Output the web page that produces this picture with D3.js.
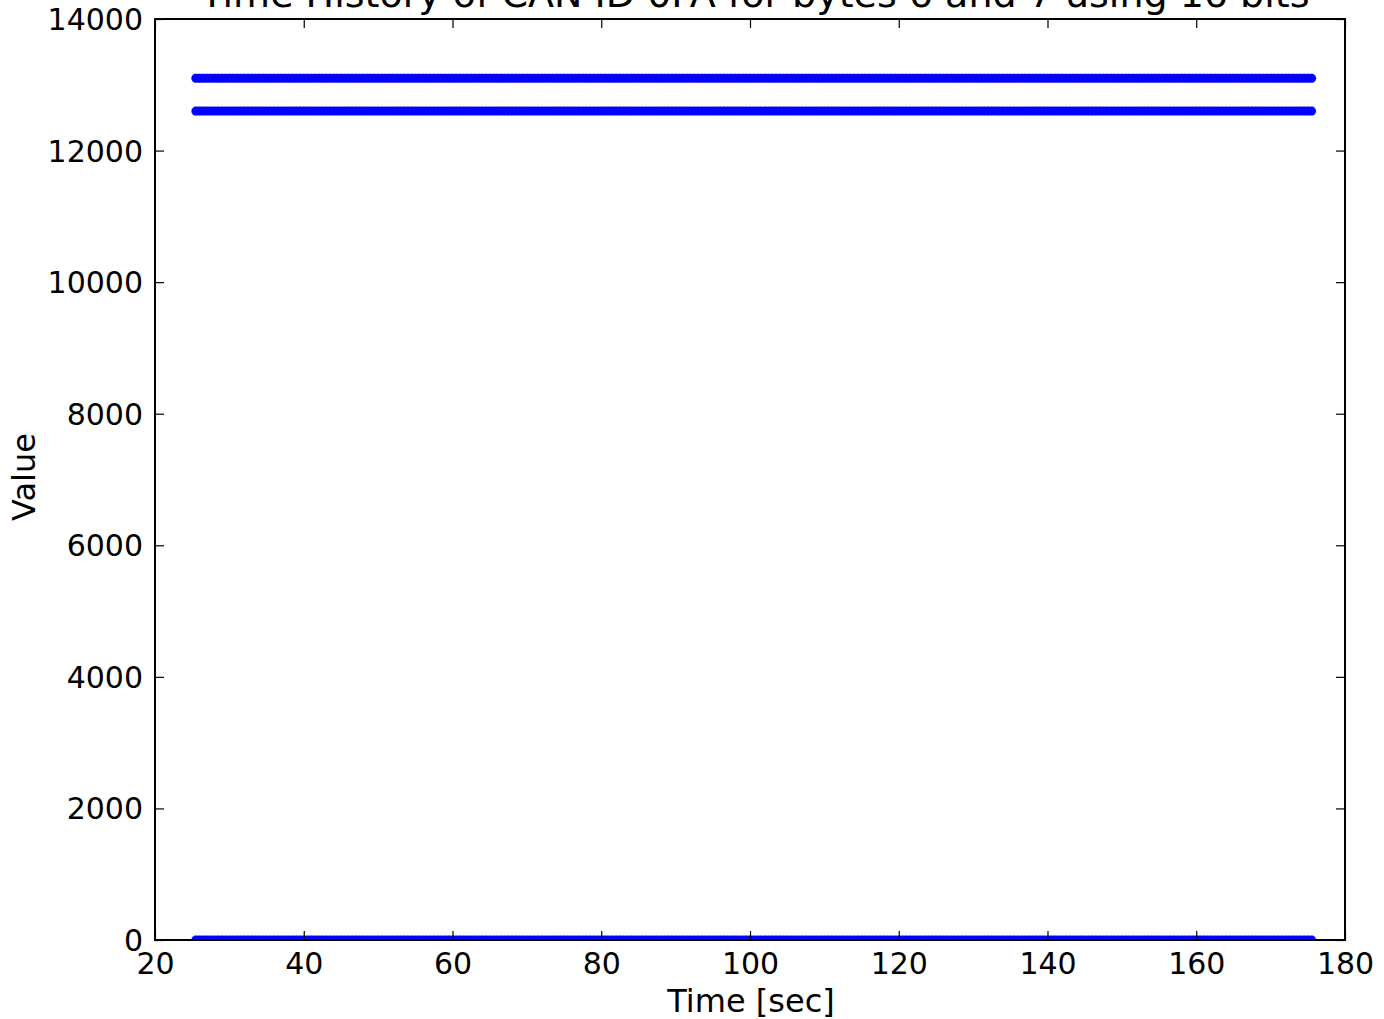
<!DOCTYPE html>
<html><head><meta charset="utf-8">
<script src="https://cdn.jsdelivr.net/npm/d3@7"></script>
<style>body{margin:0;background:#fff;} text{font-family:"DejaVu Sans",sans-serif;fill:#000;}</style>
</head><body>
<svg id="c" width="1384" height="1019"></svg>
<script>
const titleText = "Time History of CAN ID 0FA for bytes 6 and 7 using 16 bits";
const xLabel = "Time [sec]";
const yLabel = "Value";
const xTicks = [20,40,60,80,100,120,140,160,180];
const yTicks = [0,2000,4000,6000,8000,10000,12000,14000];
const times = [25.5,26,26.5,27,27.5,28,28.5,29,29.5,30,30.5,31,31.5,32,32.5,33,33.5,34,34.5,35,35.5,36,36.5,37,37.5,38,38.5,39,39.5,40,
40.5,41,41.5,42,42.5,43,43.5,44,44.5,45,45.5,46,46.5,47,47.5,48,48.5,49,49.5,50,50.5,51,51.5,52,52.5,53,53.5,54,54.5,55,
55.5,56,56.5,57,57.5,58,58.5,59,59.5,60,60.5,61,61.5,62,62.5,63,63.5,64,64.5,65,65.5,66,66.5,67,67.5,68,68.5,69,69.5,70,
70.5,71,71.5,72,72.5,73,73.5,74,74.5,75,75.5,76,76.5,77,77.5,78,78.5,79,79.5,80,80.5,81,81.5,82,82.5,83,83.5,84,84.5,85,
85.5,86,86.5,87,87.5,88,88.5,89,89.5,90,90.5,91,91.5,92,92.5,93,93.5,94,94.5,95,95.5,96,96.5,97,97.5,98,98.5,99,99.5,100,
100.5,101,101.5,102,102.5,103,103.5,104,104.5,105,105.5,106,106.5,107,107.5,108,108.5,109,109.5,110,110.5,111,111.5,112,112.5,113,113.5,114,114.5,115,
115.5,116,116.5,117,117.5,118,118.5,119,119.5,120,120.5,121,121.5,122,122.5,123,123.5,124,124.5,125,125.5,126,126.5,127,127.5,128,128.5,129,129.5,130,
130.5,131,131.5,132,132.5,133,133.5,134,134.5,135,135.5,136,136.5,137,137.5,138,138.5,139,139.5,140,140.5,141,141.5,142,142.5,143,143.5,144,144.5,145,
145.5,146,146.5,147,147.5,148,148.5,149,149.5,150,150.5,151,151.5,152,152.5,153,153.5,154,154.5,155,155.5,156,156.5,157,157.5,158,158.5,159,159.5,160,
160.5,161,161.5,162,162.5,163,163.5,164,164.5,165,165.5,166,166.5,167,167.5,168,168.5,169,169.5,170,170.5,171,171.5,172,172.5,173,173.5,174,174.5,175,175.5];
const seriesLevels = [13100, 12600, 0];

const L=155, R=1345, T=19, B=940;
const svg = d3.select("#c");
const x = d3.scaleLinear().domain([20,180]).range([L,R]);
const y = d3.scaleLinear().domain([0,14000]).range([B,T]);

svg.append("defs").append("clipPath").attr("id","clip")
  .append("rect").attr("x",L).attr("y",T).attr("width",R-L).attr("height",B-T);

const pts = [];
seriesLevels.forEach(v => times.forEach(t => pts.push({t, v})));
svg.append("g").attr("clip-path","url(#clip)")
  .selectAll("circle").data(pts).join("circle")
  .attr("cx",d=>x(d.t)).attr("cy",d=>y(d.v)).attr("r",4.5)
  .attr("fill","#0000ff").attr("stroke","#2020c0").attr("stroke-opacity",0.3).attr("stroke-width",0.6);

// axes frame
svg.append("rect").attr("x",L).attr("y",T).attr("width",R-L).attr("height",B-T)
  .attr("fill","none").attr("stroke","#000").attr("stroke-width",2);

const tk = 9;
const axB = svg.append("g").attr("transform",`translate(0,${B})`).call(d3.axisBottom(x).tickValues(xTicks).tickSize(-tk).tickFormat(d3.format("d")));
const axT = svg.append("g").attr("transform",`translate(0,${T})`).call(d3.axisTop(x).tickValues(xTicks).tickSize(-tk).tickFormat(""));
const axL = svg.append("g").attr("transform",`translate(${L},0)`).call(d3.axisLeft(y).tickValues(yTicks).tickSize(-tk).tickFormat(d3.format("d")));
const axR = svg.append("g").attr("transform",`translate(${R},0)`).call(d3.axisRight(y).tickValues(yTicks).tickSize(-tk).tickFormat(""));
[axB,axT,axL,axR].forEach(g=>{
  g.select(".domain").remove();
  g.selectAll(".tick line").attr("stroke","#000").attr("stroke-width",1.2);
  g.selectAll("text").style("font-family","DejaVu Sans").style("font-size","30px").attr("fill","#000");
});
axB.selectAll("text").attr("dy","0.71em").attr("y",13);
axL.selectAll("text").attr("dy","0.35em").attr("x",-12);

svg.append("text").attr("x",755).attr("y",7).attr("text-anchor","middle")
  .style("font-size","38px").text(titleText);
svg.append("text").attr("x",751).attr("y",1012).attr("text-anchor","middle")
  .style("font-size","32px").text(xLabel);
svg.append("text").attr("transform","translate(35,477) rotate(-90)").attr("text-anchor","middle")
  .style("font-size","32px").text(yLabel);
</script>
</body></html>
